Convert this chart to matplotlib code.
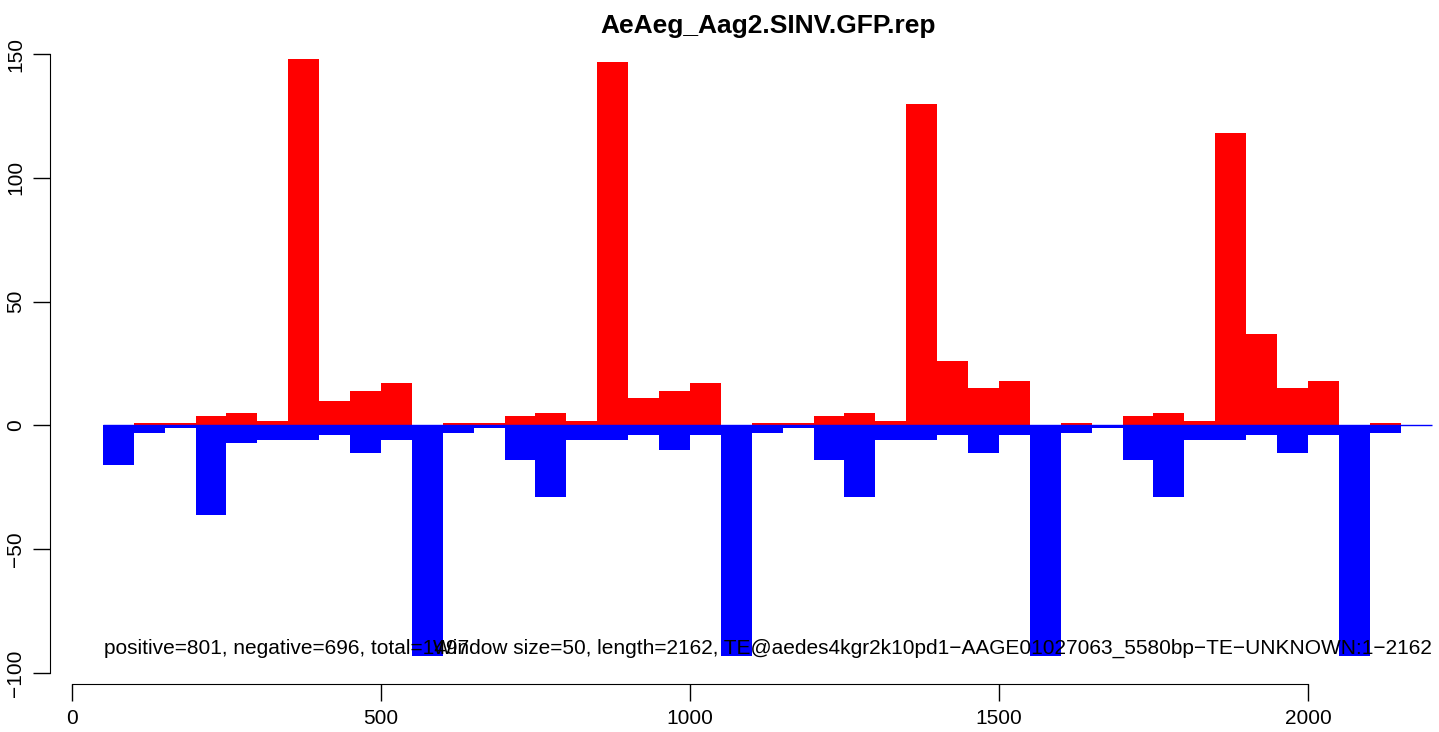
import matplotlib
matplotlib.use("Agg")
import matplotlib.pyplot as plt
import numpy as np

# -----------------------------
# DATA
# -----------------------------
TITLE = "AeAeg_Aag2.SINV.GFP.rep"
WINDOW = 50
bin_start = np.arange(50, 2150, WINDOW)  # 42 windows

positive = [0, 1, 1, 4, 5, 2, 148, 10, 14, 17,
            0, 1, 1, 4, 5, 2, 147, 11, 14, 17,
            0, 1, 1, 4, 5, 2, 130, 26, 15, 18,
            0, 1, 0, 4, 5, 2, 118, 37, 15, 18,
            0, 1]
negative = [-16, -3, -1, -36, -7, -6, -6, -4, -11, -6,
            -93, -3, -1, -14, -29, -6, -6, -4, -10, -4,
            -93, -3, -1, -14, -29, -6, -6, -4, -11, -4,
            -93, -3, -1, -14, -29, -6, -6, -4, -11, -4,
            -93, -3]

x_ticks = [0, 500, 1000, 1500, 2000]
y_ticks = [-100, -50, 0, 50, 100, 150]
info_left = "positive=801, negative=696, total=1497"
info_right = "Window size=50, length=2162, TE@aedes4kgr2k10pd1\u2212AAGE01027063_5580bp\u2212TE\u2212UNKNOWN:1\u22122162"

# -----------------------------
# PLOT
# -----------------------------
plt.rcParams["font.family"] = ["Liberation Sans", "DejaVu Sans"]
W, H = 1439, 732
fig = plt.figure(figsize=(W / 100, H / 100), dpi=100)

left_px, right_px, top_px, bottom_px = 50, 1439, 36, 684
ax = fig.add_axes([left_px / W, 1 - bottom_px / H,
                   (right_px - left_px) / W, (bottom_px - top_px) / H])
ax.set_xlim(-35.6, 2212)
ax.set_ylim(-104.4, 157.3)

ax.bar(bin_start, positive, width=WINDOW, align="edge", color="#ff0000", linewidth=0)
ax.bar(bin_start, negative, width=WINDOW, align="edge", color="#0000ff", linewidth=0)
ax.hlines(0, 50, 2200, color="#0000ff", linewidth=1.0)

ax.text(52, -90, info_left, fontsize=15, ha="left", va="center")
ax.text(2200, -90, info_right, fontsize=15, ha="right", va="center")

for s in ["top", "right"]:
    ax.spines[s].set_visible(False)
ax.spines["left"].set_bounds(-100, 150)
ax.spines["bottom"].set_bounds(0, 2000)
ax.set_xticks(x_ticks)
ax.set_yticks(y_ticks)
ax.set_yticklabels([str(v).replace("-", "\u2212") for v in y_ticks],
                   rotation=90, va="center")
ax.tick_params(axis="both", length=12, width=1, labelsize=15, pad=6)
ax.patch.set_visible(False)

fig.text(768 / W, 1 - 26 / H, TITLE, fontsize=19, fontweight="bold",
         ha="center", va="center")

fig.savefig("out.png", dpi=100)
